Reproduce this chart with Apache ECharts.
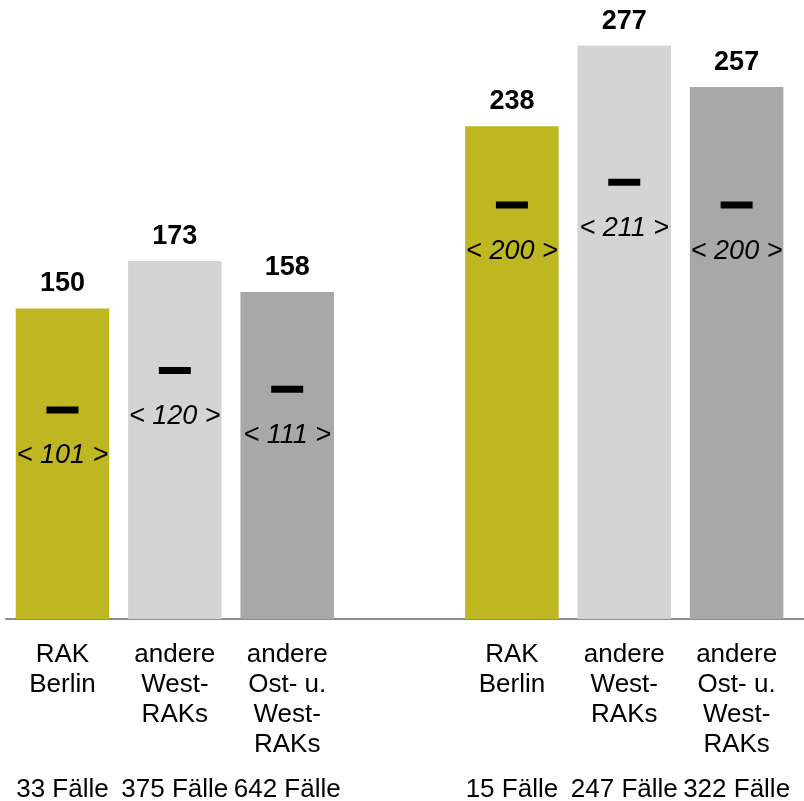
<!DOCTYPE html>
<html>
<head>
<meta charset="utf-8">
<script src="https://cdn.jsdelivr.net/npm/echarts@6/dist/echarts.min.js"></script>
<style>
  html, body { margin: 0; padding: 0; background: #fff; }
  #chart { width: 804px; height: 801px; }
</style>
</head>
<body>
<div id="chart"></div>
<script>
// Group labels (same three groups on both sides)
const groupNames = ['RAK\nBerlin', 'andere\nWest-\nRAKs', 'andere\nOst- u.\nWest-\nRAKs'];

// Left block
const totalsLeft = [150, 173, 158];
const refsLeft = [101, 120, 111];
const casesLeft = [33, 375, 642];

// Right block
const totalsRight = [238, 277, 257];
const refsRight = [200, 211, 200];
const casesRight = [15, 247, 322];

const barColors = ['#BEB722', '#D4D4D4', '#A8A8A8'];
const FONT = '"Liberation Sans", Arial, sans-serif';

// Build the 7-slot category layout: 3 bars, an empty slot, 3 bars
const categories = [...groupNames, '', ...groupNames];
const caseLabels = [...casesLeft, null, ...casesRight].map(v => v == null ? '' : v + ' Fälle');
const totals = [...totalsLeft, null, ...totalsRight];
const refs = [...refsLeft, null, ...refsRight];
const colorsBySlot = [...barColors, null, ...barColors];

const barData = totals.map((v, i) => v == null ? '-' : { value: v, itemStyle: { color: colorsBySlot[i] } });
const refData = refs.map(v => v == null ? '-' : v);

const chart = echarts.init(document.getElementById('chart'), null, { renderer: 'canvas' });

chart.setOption({
  animation: false,
  grid: [
    { left: 6.3, right: 11.2, top: 18.7, bottom: 182, containLabel: false, outerBoundsMode: 'none' },
    { left: 6, right: 0, top: 18.7, bottom: 182, containLabel: false, outerBoundsMode: 'none' }
  ],
  xAxis: [
    {
      type: 'category', gridIndex: 0, data: categories,
      axisLine: { show: false }, axisTick: { show: false },
      axisLabel: {
        interval: 0, margin: 21, verticalAlign: 'top',
        fontFamily: FONT, fontSize: 26, lineHeight: 30, color: '#000'
      }
    },
    {
      type: 'category', gridIndex: 0, data: caseLabels, position: 'bottom',
      axisLine: { show: false }, axisTick: { show: false },
      axisLabel: {
        interval: 0, margin: 158, verticalAlign: 'top',
        fontFamily: FONT, fontSize: 26, lineHeight: 26, color: '#000'
      }
    },
    {
      type: 'category', gridIndex: 1, data: [''],
      axisLine: { show: true, lineStyle: { color: '#8C8C8C', width: 2 } },
      axisTick: { show: false }, axisLabel: { show: false }
    }
  ],
  yAxis: [
    { type: 'value', gridIndex: 0, min: 0, max: 290, show: false },
    { type: 'value', gridIndex: 1, min: 0, max: 290, show: false }
  ],
  series: [
    {
      type: 'bar', xAxisIndex: 0, yAxisIndex: 0,
      data: barData, barWidth: 93.5,
      label: {
        show: true, position: 'top', distance: 11,
        fontFamily: FONT, fontSize: 27, fontWeight: 'bold', color: '#000'
      }
    },
    {
      type: 'scatter', xAxisIndex: 0, yAxisIndex: 0,
      data: refData, symbol: 'rect', symbolSize: [32, 7],
      itemStyle: { color: '#000', opacity: 1 },
      label: {
        show: true, position: 'bottom', distance: 29,
        formatter: p => '< ' + p.value + ' >',
        fontFamily: FONT, fontSize: 27, fontStyle: 'italic', color: '#000'
      },
      z: 3
    }
  ]
});
</script>
</body>
</html>
